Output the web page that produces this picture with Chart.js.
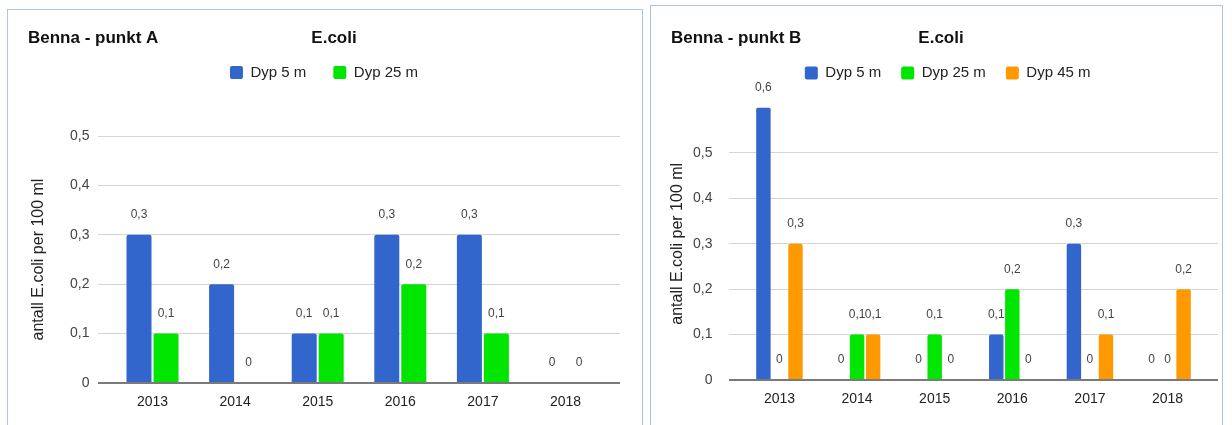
<!DOCTYPE html>
<html><head><meta charset="utf-8">
<script src="https://cdn.jsdelivr.net/npm/chart.js@4/dist/chart.umd.min.js"></script>
<style>
html,body{margin:0;padding:0;background:#fff;width:1232px;height:425px;overflow:hidden;}
.panel{position:absolute;box-sizing:border-box;border:1px solid #a9c5f2;background:#fff;}
.wrap{position:absolute;}
</style></head><body>
<div class="panel" style="left:7px;top:9px;width:636px;height:440px"></div>
<div class="panel" style="left:650px;top:5px;width:573px;height:440px"></div>
<div class="wrap" style="left:8px;top:10px;width:633px;height:415px"><canvas id="cA"></canvas></div>
<div class="wrap" style="left:651px;top:6px;width:570px;height:419px"><canvas id="cB"></canvas></div>
<script>
// ---- data ----
const years = ['2013', '2014', '2015', '2016', '2017', '2018'];
const titleA = 'Benna - punkt A';
const titleB = 'Benna - punkt B';
const chartSubject = 'E.coli';
const yAxisTitle = 'antall E.coli per 100 ml';
const namesA = ['Dyp 5 m', 'Dyp 25 m'];
const a_dyp5 = [0.3, 0.2, 0.1, 0.3, 0.3, 0];
const a_dyp25 = [0.1, 0, 0.1, 0.2, 0.1, 0];
const namesB = ['Dyp 5 m', 'Dyp 25 m', 'Dyp 45 m'];
const b_dyp5 = [0.6, 0, 0, 0.1, 0.3, 0];
const b_dyp25 = [0, 0.1, 0.1, 0.2, 0, 0];
const b_dyp45 = [0.3, 0.1, 0, 0, 0.1, 0.2];
const yTicksA = [0, 0.1, 0.2, 0.3, 0.4, 0.5];
const yTicksB = [0, 0.1, 0.2, 0.3, 0.4, 0.5];

// ---- styling ----
const FONT = "'Liberation Sans', Arial, sans-serif";
Chart.defaults.font.family = FONT;
const BLUE = '#3366cc', GREEN = '#00e600', ORANGE = '#ff9900';

function fmt(v) {
  const r = Math.round(v * 10) / 10;
  return r === 0 ? '0' : String(r).replace('.', ',');
}

const headerPlugin = {
  id: 'header',
  afterDraw(chart, args, o) {
    const ctx = chart.ctx;
    ctx.save();
    ctx.font = 'bold 17px ' + FONT;
    ctx.fillStyle = '#111';
    ctx.textBaseline = 'middle';
    ctx.textAlign = 'left';
    ctx.fillText(o.left, o.leftX, o.y);
    ctx.textAlign = 'center';
    ctx.fillText(o.center, o.centerX, o.y);
    ctx.restore();
  }
};

const valuePlugin = {
  id: 'values',
  afterDatasetsDraw(chart, args, o) {
    const ctx = chart.ctx;
    ctx.save();
    ctx.font = '12px ' + FONT;
    ctx.fillStyle = '#444';
    ctx.textAlign = 'center';
    ctx.textBaseline = 'middle';
    chart.data.datasets.forEach((ds, i) => {
      const meta = chart.getDatasetMeta(i);
      meta.data.forEach((el, j) => {
        ctx.fillText(fmt(ds.data[j]), el.x, el.y - o.offset);
      });
    });
    ctx.restore();
  }
};

const legendExtraPlugin = {
  id: 'legendExtra',
  beforeUpdate(chart) {
    const lg = chart.legend;
    if (lg && !lg._patched) {
      const f = lg.fit;
      lg.fit = function () { f.call(this); this.height += (chart._legendExtra || 0); };
      const d = lg.draw;
      lg.draw = function (a) {
        const c = this.ctx; c.save(); c.translate(chart._legendDx || 0, 0); d.call(this, a); c.restore();
      };
      lg._patched = true;
    }
  }
};

function build(id, datasets, yTicks, yMax, s) {
  const pad = { left: s.padLeft, right: 20, top: s.padTop, bottom: 10 };
  const chart = new Chart(document.getElementById(id), {
    type: 'bar',
    data: { labels: years, datasets },
    options: {
      responsive: true,
      maintainAspectRatio: false,
      animation: false,
      devicePixelRatio: 1,
      layout: { padding: Object.assign({}, pad) },
      datasets: { bar: { categoryPercentage: s.catPct, barPercentage: s.barPct, borderRadius: { topLeft: 2, topRight: 2 }, borderSkipped: 'bottom' } },
      plugins: {
        legend: {
          position: 'top', align: 'center',
          labels: { font: { size: 15 }, color: '#222', boxWidth: 13, boxHeight: 13, padding: s.legendPad, useBorderRadius: true, borderRadius: 2 }
        },
        tooltip: { enabled: false },
        header: s.header,
        values: { offset: 20 }
      },
      scales: {
        x: {
          type: 'category', offset: true,
          grid: { display: false, drawTicks: false },
          border: { display: false },
          ticks: { font: { size: 14 }, color: '#222', padding: 11, maxRotation: 0 },
          afterBuildTicks(scale) { scale._startValue -= s.ext; scale._valueRange += 2 * s.ext; }
        },
        y: {
          min: 0, max: yMax,
          grid: {
            drawTicks: false,
            color: c => (c.tick && c.tick.value === 0) ? '#7a7a7a' : '#d4d4d4',
            lineWidth: c => (c.tick && c.tick.value === 0) ? 2 : 1
          },
          border: { display: false },
          ticks: { font: { size: 14 }, color: '#444', padding: s.tickPad, callback: v => fmt(v) },
          afterBuildTicks(scale) { scale.ticks = yTicks.map(v => ({ value: v })); },
          title: { display: true, text: yAxisTitle, font: { size: 16 }, color: '#222', padding: { top: 0, bottom: s.titleGap } }
        }
      }
    },
    plugins: [legendExtraPlugin, headerPlugin, valuePlugin]
  });
  chart._legendExtra = 0;
  chart._legendDx = s.legendDx;
  for (let k = 0; k < 5; k++) {
    const ca = chart.chartArea;
    const dl = s.target.left - ca.left, dr = s.target.right - ca.right;
    const dt = s.target.top - ca.top, db = s.target.bottom - ca.bottom;
    if (Math.abs(dl) + Math.abs(dr) + Math.abs(dt) + Math.abs(db) < 0.5) break;
    pad.left += dl; pad.right -= dr; pad.bottom -= db;
    chart._legendExtra += dt;
    chart.options.layout.padding = Object.assign({}, pad);
    chart.update('none');
  }
  return chart;
}

build('cA', [
  { label: namesA[0], data: a_dyp5, backgroundColor: BLUE, borderWidth: 0 },
  { label: namesA[1], data: a_dyp25, backgroundColor: GREEN, borderWidth: 0 }
], yTicksA, 0.5, {
  padLeft: 20.5, padTop: 28, legendPad: 27, legendDx: -0.5, catPct: 0.654, barPct: 0.926, ext: 0.16, tickPad: 8.5, titleGap: 13.4,
  target: { left: 90, right: 612, top: 126, bottom: 373 },
  header: { left: titleA, center: chartSubject, leftX: 20, centerX: 326, y: 28.5 }
});

build('cB', [
  { label: namesB[0], data: b_dyp5, backgroundColor: BLUE, borderWidth: 0 },
  { label: namesB[1], data: b_dyp25, backgroundColor: GREEN, borderWidth: 0 },
  { label: namesB[2], data: b_dyp45, backgroundColor: ORANGE, borderWidth: 0 }
], yTicksB, 0.6, {
  padLeft: 15, padTop: 39.5, legendPad: 20, legendDx: 4.5, catPct: 0.62, barPct: 0.9, ext: 0.15, tickPad: 16.5, titleGap: -11,
  target: { left: 78, right: 567, top: 101.6, bottom: 374 },
  header: { left: titleB, center: chartSubject, leftX: 20, centerX: 290, y: 32.5 }
});
</script>
</body></html>
